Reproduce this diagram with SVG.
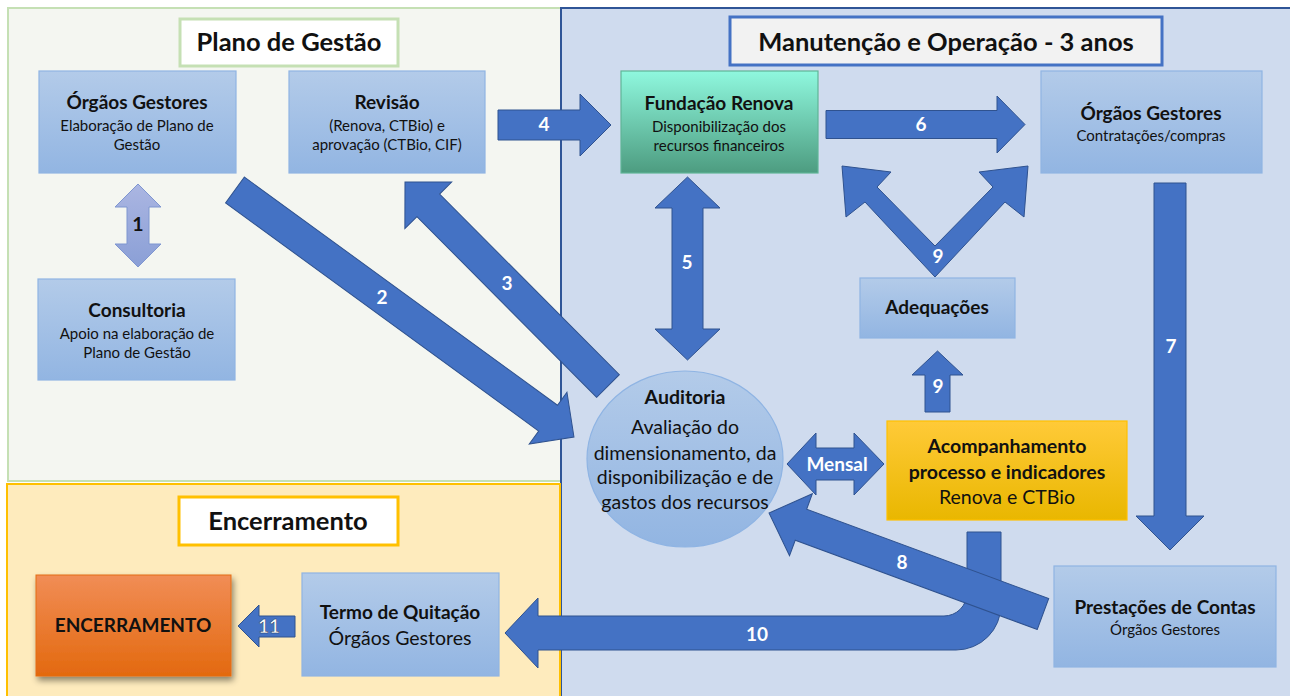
<svg xmlns="http://www.w3.org/2000/svg" width="1290" height="696" viewBox="0 0 1290 696">
<defs>
<linearGradient id="gBlue" x1="0" y1="0" x2="0" y2="1"><stop offset="0" stop-color="#b3cbe9"/><stop offset="1" stop-color="#92b5e2"/></linearGradient>
<linearGradient id="gTeal" x1="0" y1="0" x2="0" y2="1"><stop offset="0" stop-color="#8ff8de"/><stop offset="1" stop-color="#4d9c80"/></linearGradient>
<linearGradient id="gGold" x1="0" y1="0" x2="0" y2="1"><stop offset="0" stop-color="#ffca38"/><stop offset="1" stop-color="#e9b700"/></linearGradient>
<linearGradient id="gOrange" x1="0" y1="0" x2="0" y2="1"><stop offset="0" stop-color="#f18d56"/><stop offset="1" stop-color="#e3690f"/></linearGradient>
<linearGradient id="gLav" x1="0" y1="0" x2="0" y2="1"><stop offset="0" stop-color="#abb6e2"/><stop offset="1" stop-color="#8a9fd6"/></linearGradient>
<filter id="shadow" x="-20%" y="-20%" width="140%" height="150%"><feDropShadow dx="2" dy="4" stdDeviation="3" flood-color="#000" flood-opacity="0.45"/></filter>
<style>
text{font-family:Lato,"Liberation Sans",sans-serif;fill:#111;text-anchor:middle}
.box{fill:url(#gBlue);stroke:#8fb4e3;stroke-width:1.2}
.t{font-weight:bold;font-size:19px}
.s{font-size:15px}
.m{font-size:19.5px}
.mb{font-size:19.5px;font-weight:bold}
.h{font-weight:bold;font-size:25.5px}
.arr{fill:#4472c4;stroke:#2f528f;stroke-width:1}
.lbl{fill:#fff;font-weight:bold;font-size:19px}
</style>
</defs>

<g id="panel-plano">
<rect x="8" y="8" width="553" height="473" fill="#f4f6f1" stroke="#c5e0b4" stroke-width="2"/>
</g>
<g id="panel-manutencao">
<rect x="561" y="8" width="740" height="700" fill="#cfdbee" stroke="#2f5597" stroke-width="2"/>
</g>
<g id="panel-encerramento">
<rect x="7" y="484" width="553" height="220" fill="#feebbd" stroke="#ffc000" stroke-width="2"/>
</g>

<g id="title-plano">
<rect x="180" y="19" width="218" height="47" fill="#fff" stroke="#c5e0b4" stroke-width="3"/>
<text class="h" x="289" y="51">Plano de Gestão</text>
</g>
<g id="title-manutencao">
<rect x="730" y="17" width="432" height="48" fill="#f2f2f2" stroke="#4472c4" stroke-width="3"/>
<text class="h" x="946" y="51">Manutenção e Operação - 3 anos</text>
</g>
<g id="title-encerramento">
<rect x="179" y="497" width="219" height="48" fill="#fff" stroke="#ffc000" stroke-width="3"/>
<text class="h" x="288" y="530">Encerramento</text>
</g>

<g id="orgaos-plano">
<rect class="box" x="39" y="71" width="197" height="102"/>
<text class="t" x="137" y="109">Órgãos Gestores</text>
<text class="s" x="137" y="131">Elaboração de Plano de</text>
<text class="s" x="137" y="150">Gestão</text>
</g>
<g id="revisao">
<rect class="box" x="289" y="71" width="196" height="102"/>
<text class="t" x="387" y="109">Revisão</text>
<text class="s" x="387" y="131">(Renova, CTBio) e</text>
<text class="s" x="387" y="150">aprovação (CTBio, CIF)</text>
</g>
<g id="fundacao">
<rect x="621" y="71" width="197" height="102" fill="url(#gTeal)" stroke="#5fb597" stroke-width="1.2"/>
<text class="t" x="719" y="110">Fundação Renova</text>
<text class="s" x="719" y="132">Disponibilização dos</text>
<text class="s" x="719" y="151">recursos financeiros</text>
</g>
<g id="orgaos-manut">
<rect class="box" x="1041" y="71" width="221" height="102"/>
<text class="t" x="1151" y="120">Órgãos Gestores</text>
<text class="s" x="1151" y="141">Contratações/compras</text>
</g>
<g id="consultoria">
<rect class="box" x="38" y="279" width="197" height="101"/>
<text class="t" x="137" y="317">Consultoria</text>
<text class="s" x="137" y="339">Apoio na elaboração de</text>
<text class="s" x="137" y="358">Plano de Gestão</text>
</g>
<g id="adequacoes">
<rect class="box" x="860" y="278" width="155" height="60"/>
<text class="t" x="937" y="314">Adequações</text>
</g>
<g id="auditoria">
<ellipse cx="685" cy="459" rx="98" ry="88" fill="url(#gBlue)" stroke="#8fb4e3" stroke-width="1.2"/>
<text class="mb" x="685" y="404">Auditoria</text>
<text class="m" x="685" y="434">Avaliação do</text>
<text class="m" x="685" y="460">dimensionamento, da</text>
<text class="m" x="685" y="484">disponibilização e de</text>
<text class="m" x="685" y="509">gastos dos recursos</text>
</g>
<g id="acompanhamento">
<rect x="887" y="421" width="240" height="99" fill="url(#gGold)" stroke="#ffc000" stroke-width="1.2"/>
<text class="mb" x="1007" y="453">Acompanhamento</text>
<text class="mb" x="1007" y="479">processo e indicadores</text>
<text class="m" x="1007" y="504">Renova e CTBio</text>
</g>
<g id="prestacoes">
<rect class="box" x="1054" y="566" width="222" height="101"/>
<text class="t" x="1165" y="614">Prestações de Contas</text>
<text class="s" x="1165" y="635">Órgãos Gestores</text>
</g>
<g id="termo">
<rect class="box" x="302" y="573" width="197" height="103"/>
<text class="t" x="400" y="619">Termo de Quitação</text>
<text class="m" x="400" y="645">Órgãos Gestores</text>
</g>
<g id="encerramento-node">
<rect x="36" y="575" width="195" height="101" fill="url(#gOrange)" stroke="#e46c12" stroke-width="1" filter="url(#shadow)"/>
<text class="t" x="133" y="632">ENCERRAMENTO</text>
</g>

<g id="connectors">
<polygon points="138,184 161,207 149,207 149,244 161,244 138,267 115,244 127,244 127,207 115,207" fill="url(#gLav)" stroke="#7f96d0" stroke-width="1"/>
<text class="mb" x="138" y="231">1</text>

<polygon class="arr" transform="translate(235,190) rotate(36.08)" points="0,-16 387.4,-16 387.4,-32 419.4,0 387.4,32 387.4,16 0,16"/>
<text class="lbl" x="382" y="304">2</text>

<polygon class="arr" transform="translate(608,386) rotate(-134.86)" points="0,-16 254.8,-16 254.8,-33 287.8,0 254.8,33 254.8,16 0,16"/>
<text class="lbl" x="507" y="290">3</text>

<polygon class="arr" points="498,110 580,110 580,94 611,125 580,156 580,140 498,140"/>
<text class="lbl" x="544" y="131">4</text>

<polygon class="arr" points="687.5,177 720,208 703,208 703,329 720,329 687.5,360 655,329 672,329 672,208 655,208"/>
<text class="lbl" x="687" y="269">5</text>

<polygon class="arr" points="826,110.5 997,110.5 997,96 1025,124.5 997,153 997,138.5 826,138.5"/>
<text class="lbl" x="921" y="131">6</text>

<polygon class="arr" points="1154,183 1186,183 1186,516 1204,516 1170,550 1136,516 1154,516"/>
<text class="lbl" x="1171" y="353">7</text>

<polygon class="arr" points="935,277 865,202 846,217 842,166 891,172 877,187 935,246 993,187 979,172 1028,166 1024,217 1005,202"/>
<text class="lbl" x="938" y="263">9</text>

<polygon class="arr" points="925,412 950,412 950,375 963,375 937.5,351 912,375 925,375"/>
<text class="lbl" x="938" y="393">9</text>

<polygon class="arr" points="787,464 816,433 816,448 854,448 854,433 884,464 854,495 854,480 816,480 816,495"/>
<text class="lbl" x="837" y="471">Mensal</text>

<path class="arr" d="M967,532 H1001 V605 A45,45 0 0 1 956,650 H538 V668 L505,633 L538,598 V616 H944 A23,23 0 0 0 967,593 Z"/>
<text class="lbl" x="757" y="641">10</text>

<polygon class="arr" transform="translate(1043,614) rotate(-159.76)" points="0,-16.5 258,-16.5 258,-33 292,0 258,33 258,16.5 0,16.5"/>
<text class="lbl" x="902" y="569">8</text>

<polygon class="arr" points="295,616 295,637 259,637 259,647 238,626 259,605 259,616"/>
<text class="lbl" x="269" y="633" stroke="#1f3864" stroke-width="0.5">11</text>
</g>
</svg>
